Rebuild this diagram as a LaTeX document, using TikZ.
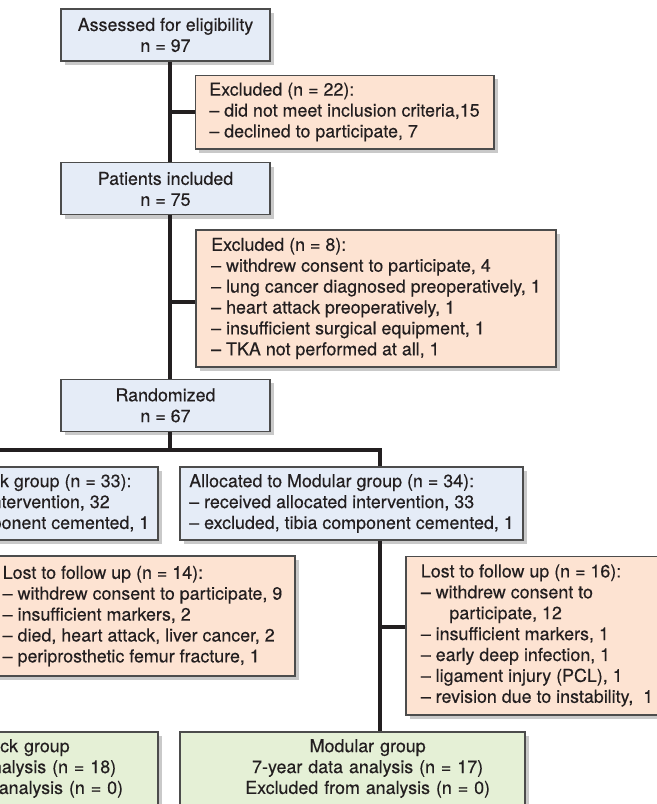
\documentclass[tikz,border=0pt]{standalone}
\usepackage{fontspec}
\setmainfont{TeX Gyre Heros}[FakeBold=0.3]
\usetikzlibrary{shadows, positioning}

\definecolor{boxblue}{RGB}{229,236,247}
\definecolor{boxpeach}{RGB}{253,227,210}
\definecolor{boxgreen}{RGB}{229,240,214}
\definecolor{inkgray}{RGB}{35,31,32}

\begin{document}
\begin{tikzpicture}[x=0.56pt, y=-0.56pt,
 box/.style={draw=black!70, line width=0.6pt, text=inkgray, inner sep=2pt,
  font=\fontsize{10}{11.7}\selectfont,
  drop shadow={shadow xshift=2.2pt, shadow yshift=-2.2pt, opacity=.3, fill=black!70}},
 main box/.style={box, fill=boxblue, align=center, minimum width=117pt, minimum height=29.1pt},
 excl box/.style={box, fill=boxpeach, align=left},
 alloc box/.style={box, fill=boxblue, align=left, minimum height=40.9pt},
 result box/.style={box, fill=boxgreen, align=center, inner sep=0pt, text width=193.2pt,
  minimum height=40.9pt,
  execute at begin node={\leftskip=17pt plus 1fil\rightskip=0pt plus 1fil\parfillskip=0pt}},
 link/.style={draw=inkgray, line width=1.8pt}]
  \useasboundingbox (0,0) rectangle (657,804);
  \clip (0,0) rectangle (657,804);

  \node[main box] (A) at (165.5,35) {Assessed for eligibility\\ n = 97};
  \node[main box] (P) [below of=A, node distance=86.2pt] {Patients included\\ n = 75};
  \node[main box] (R) [below of=P, node distance=121.2pt] {Randomized\\ n = 67};

  \node[excl box, minimum width=167.4pt, minimum height=41.4pt] (Ex1) at (344.5,112)
   {Excluded (n = 22):\\ – did not meet inclusion criteria,15\\ – declined to participate, 7};
  \node[excl box, minimum width=201.6pt, minimum height=76.7pt] (Ex2) at (376,298.5)
   {Excluded (n = 8):\\ – withdrew consent to participate, 4\\ – lung cancer diagnosed preoperatively, 1\\
    – heart attack preoperatively, 1\\ – insufficient surgical equipment, 1\\ – TKA not performed at all, 1};

  \node[alloc box, minimum width=191.5pt] (LA) at (-13,503.5)
   {Allocated to Monoblock group (n = 33):\\ – received allocated intervention, 32\\ – excluded, tibia component cemented, 1};
  \node[alloc box, minimum width=192.1pt] (MA) at (351.5,503.5)
   {Allocated to Modular group (n = 34):\\ – received allocated intervention, 33\\ – excluded, tibia component cemented, 1};

  \node[excl box, minimum width=170.8pt, minimum height=67.2pt] (LL) at (142.5,616)
   {Lost to follow up (n = 14):\\ – withdrew consent to participate, 9\\ – insufficient markers, 2\\
    – died, heart attack, liver cancer, 2\\ – periprosthetic femur fracture, 1};
  \node[excl box, minimum width=146.7pt, minimum height=89pt] (LR) at (537,635.5)
   {Lost to follow up (n = 16):\\ – withdrew consent to\\ \hspace*{16pt}participate, 12\\ – insufficient markers, 1\\
    – early deep infection, 1\\ – ligament injury (PCL), 1\\ – revision due to instability,~ 1};

  \node[result box] (LB) at (-14.5,768.5)
   {Monoblock group\\ 7-year data analysis (n = 18)\\ Excluded from analysis (n = 0)};
  \node[result box] (MB) at (352.5,768.5)
   {Modular group\\ 7-year data analysis (n = 17)\\ Excluded from analysis (n = 0)};

  % trunk and side exits
  \coordinate (sp) at (170,0);
  \coordinate (lb) at (-40,450);
  \coordinate (rb) at (380,450);
  \draw[link] (A.south -| sp) -- (P.north -| sp);
  \draw[link] (P.south -| sp) -- (R.north -| sp);
  \draw[link] (R.south -| sp) -- (sp |- rb);
  \draw[link] (Ex1.west) -- (Ex1.west -| sp);
  \draw[link] ([yshift=-2pt]Ex2.west) -- ([yshift=-2pt]Ex2.west -| sp);
  \draw[link] (LA.north -| lb) |- (rb) -- (MA.north -| rb);

  % the two arms
  \foreach \b/\a/\l/\r in {lb/LA/LL/LB, rb/MA/LR/MB} {
   \draw[link] (\a.south -| \b) -- (\r.north -| \b);
   \draw[link] ([yshift=4.8pt]\l.west) -- ([yshift=4.8pt]\l.west -| \b);}
\end{tikzpicture}
\end{document}
